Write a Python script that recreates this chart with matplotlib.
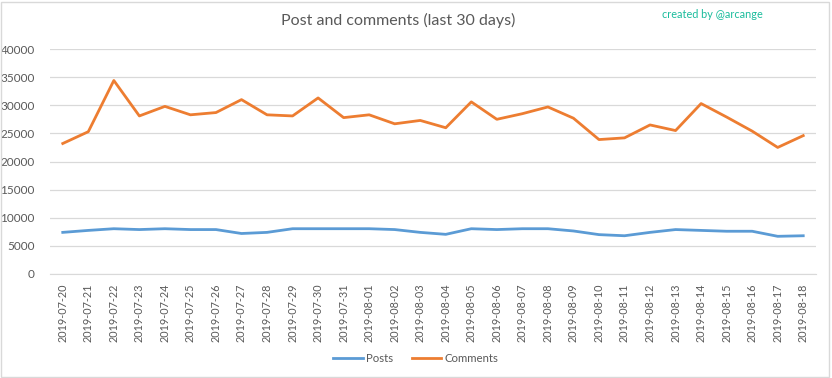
import matplotlib
matplotlib.use("Agg")
import matplotlib.pyplot as plt
from matplotlib.patches import Rectangle

dates = ["2019-07-20", "2019-07-21", "2019-07-22", "2019-07-23", "2019-07-24",
         "2019-07-25", "2019-07-26", "2019-07-27", "2019-07-28", "2019-07-29",
         "2019-07-30", "2019-07-31", "2019-08-01", "2019-08-02", "2019-08-03",
         "2019-08-04", "2019-08-05", "2019-08-06", "2019-08-07", "2019-08-08",
         "2019-08-09", "2019-08-10", "2019-08-11", "2019-08-12", "2019-08-13",
         "2019-08-14", "2019-08-15", "2019-08-16", "2019-08-17", "2019-08-18"]

posts = [7400, 7750, 8050, 7900, 8050, 7900, 7900, 7200, 7400, 8050,
         8050, 8050, 8050, 7900, 7400, 7050, 8050, 7900, 8050, 8050,
         7650, 7000, 6800, 7400, 7900, 7750, 7600, 7600, 6700, 6800]

comments = [23200, 25300, 34400, 28100, 29800, 28300, 28700, 31000, 28300, 28100,
            31300, 27800, 28300, 26700, 27300, 26000, 30600, 27500, 28500, 29700,
            27700, 23900, 24200, 26500, 25500, 30300, 27900, 25400, 22500, 24600]

yticks = [0, 5000, 10000, 15000, 20000, 25000, 30000, 35000, 40000]

plt.rcParams['font.family'] = ['Lato', 'DejaVu Sans']

W, H = 832, 378
fig = plt.figure(figsize=(W / 100, H / 100), dpi=100)
ax = fig.add_axes([50 / W, 1 - 274 / H, (816 - 50) / W, (274 - 49) / H])

x = list(range(len(dates)))
ax.plot(x, posts, color="#5B9BD5", lw=2.0, label="Posts", solid_joinstyle="round")
ax.plot(x, comments, color="#ED7D31", lw=2.0, label="Comments", solid_joinstyle="round")

ax.set_xlim(-0.5, len(dates) - 0.5)
ax.set_ylim(0, 40000)
ax.set_yticks(yticks)
ax.set_yticklabels([str(v) for v in yticks])
ax.set_xticks(x)
ax.set_xticklabels(dates, rotation=90)
ax.grid(axis="y", color="#D9D9D9", lw=0.9)
ax.set_axisbelow(True)
for s in ["top", "right", "left"]:
    ax.spines[s].set_visible(False)
ax.spines["bottom"].set_color("#D9D9D9")
ax.tick_params(axis="both", length=0, colors="#595959")
ax.tick_params(axis="y", pad=11, labelsize=8.5)
ax.tick_params(axis="x", pad=7, labelsize=7.8)

fig.text(398 / W, 1 - 20 / H, "Post and comments (last 30 days)", ha="center", va="center",
         fontsize=11.5, color="#595959")
fig.text(763 / W, 1 - 14 / H, "created by @arcange", ha="right", va="center",
         fontsize=7.8, color="#1ABC9C")

leg = fig.legend(loc="center", bbox_to_anchor=(416 / W, 1 - 358 / H), ncol=2, frameon=False,
                 fontsize=8.2, handlelength=2.6, columnspacing=1.6, handletextpad=0.3)
for t in leg.get_texts():
    t.set_color("#595959")

fig.patches.append(Rectangle((1 / W, 1 / H), (W - 4) / W, (H - 3) / H, transform=fig.transFigure,
                             fill=False, edgecolor="#D9D9D9", lw=1))

fig.savefig("out.png", dpi=100, facecolor="white")
